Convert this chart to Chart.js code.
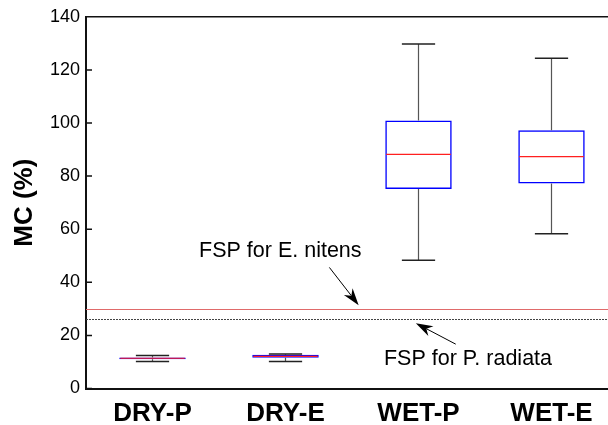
<!DOCTYPE html>
<html>
<head>
<meta charset="utf-8">
<script src="https://cdn.jsdelivr.net/npm/chart.js@4"></script>
<style>
html, body { margin: 0; padding: 0; background: #fff; overflow: hidden; }
#wrap { width: 620px; height: 425px; }
</style>
</head>
<body>
<div id="wrap"><canvas id="mcChart" width="620" height="425"></canvas></div>
<script>
// カテゴリ
const categories = ['DRY-P', 'DRY-E', 'WET-P', 'WET-E'];

// 箱ひげ図の値 (MC %)
const whiskerLow  = [10.2, 10.2, 48.3, 58.3];
const q1          = [11.0, 11.6, 75.1, 77.2];
const median      = [11.4, 12.1, 88.2, 87.3];
const q3          = [11.7, 12.7, 100.9, 97.3];
const whiskerHigh = [12.4, 13.0, 129.8, 124.4];

// Y軸の目盛
const yTicks = [0, 20, 40, 60, 80, 100, 120, 140];

// 繊維飽和点 (FSP)
const fspNitens = 30;
const fspRadiata = 26;

// 注記 (カテゴリ番号, 値)
const notes = [
    { text: 'FSP for E. nitens', textAt: [0.35, 49.7], from: [1.33, 45.6], to: [1.55, 31.4] },
    { text: 'FSP for P. radiata', textAt: [1.74, 8.8], from: [2.28, 16.7], to: [1.98, 24.6] }
];

const fontFamily = 'Arial, "Liberation Sans", Helvetica, sans-serif';
Chart.defaults.font.family = fontFamily;

// 矢印を描く
function drawArrow(ctx, x1, y1, x2, y2) {
    const ang = Math.atan2(y2 - y1, x2 - x1);
    const len = 17, half = 5.5;
    const bx = x2 - len * Math.cos(ang), by = y2 - len * Math.sin(ang);
    const nx = x2 - len * 0.7 * Math.cos(ang), ny = y2 - len * 0.7 * Math.sin(ang);
    ctx.strokeStyle = '#000';
    ctx.lineWidth = 1;
    ctx.beginPath();
    ctx.moveTo(x1, y1);
    ctx.lineTo(nx, ny);
    ctx.stroke();
    ctx.fillStyle = '#000';
    ctx.beginPath();
    ctx.moveTo(x2, y2);
    ctx.lineTo(bx - half * Math.sin(ang), by + half * Math.cos(ang));
    ctx.lineTo(nx, ny);
    ctx.lineTo(bx + half * Math.sin(ang), by - half * Math.cos(ang));
    ctx.closePath();
    ctx.fill();
}

// ひげ・中央値・FSP線・注記
const boxPlugin = {
    id: 'boxExtras',
    afterDatasetsDraw(chart) {
        const ctx = chart.ctx;
        const xs = chart.scales.x, ys = chart.scales.y;
        const area = chart.chartArea;
        const bars = chart.getDatasetMeta(0).data;
        ctx.save();

        // FSP線
        let py = Math.round(ys.getPixelForValue(fspNitens)) + 0.5;
        ctx.strokeStyle = '#e06a6a';
        ctx.lineWidth = 1;
        ctx.beginPath();
        ctx.moveTo(area.left, py);
        ctx.lineTo(area.right, py);
        ctx.stroke();
        py = Math.round(ys.getPixelForValue(fspRadiata)) + 0.5;
        ctx.strokeStyle = '#444';
        ctx.setLineDash([2, 1]);
        ctx.beginPath();
        ctx.moveTo(area.left, py);
        ctx.lineTo(area.right, py);
        ctx.stroke();
        ctx.setLineDash([]);

        // ひげと中央値
        categories.forEach(function (c, i) {
            const cx = xs.getPixelForValue(i);
            const w = bars[i].width;
            ctx.strokeStyle = '#555';
            ctx.lineWidth = 1.2;
            ctx.beginPath();
            ctx.moveTo(cx, ys.getPixelForValue(whiskerHigh[i]));
            ctx.lineTo(cx, ys.getPixelForValue(q3[i]));
            ctx.moveTo(cx, ys.getPixelForValue(q1[i]));
            ctx.lineTo(cx, ys.getPixelForValue(whiskerLow[i]));
            ctx.stroke();
            ctx.strokeStyle = '#222';
            ctx.lineWidth = 1.5;
            ctx.beginPath();
            [whiskerHigh[i], whiskerLow[i]].forEach(function (v) {
                const y = ys.getPixelForValue(v);
                ctx.moveTo(cx - w / 4, y);
                ctx.lineTo(cx + w / 4, y);
            });
            ctx.stroke();
            ctx.strokeStyle = '#ff2020';
            ctx.lineWidth = 1.2;
            ctx.beginPath();
            ctx.moveTo(cx - w / 2 + 1, ys.getPixelForValue(median[i]));
            ctx.lineTo(cx + w / 2 - 1, ys.getPixelForValue(median[i]));
            ctx.stroke();
        });

        // 上の枠線と内向きの目盛
        ctx.strokeStyle = '#111';
        ctx.lineWidth = 1.5;
        ctx.beginPath();
        ctx.moveTo(area.left, area.top);
        ctx.lineTo(area.right, area.top);
        ys.ticks.forEach(function (t) {
            const y = ys.getPixelForValue(t.value);
            ctx.moveTo(area.left, y);
            ctx.lineTo(area.left + 6, y);
        });
        ctx.stroke();

        // 注記
        ctx.font = '21.5px ' + fontFamily;
        ctx.fillStyle = '#000';
        ctx.textBaseline = 'alphabetic';
        notes.forEach(function (n) {
            ctx.fillText(n.text, xs.getPixelForValue(n.textAt[0]), ys.getPixelForValue(n.textAt[1]));
            drawArrow(ctx,
                xs.getPixelForValue(n.from[0]), ys.getPixelForValue(n.from[1]),
                xs.getPixelForValue(n.to[0]), ys.getPixelForValue(n.to[1]));
        });
        ctx.restore();
    }
};

const ctx = document.getElementById('mcChart').getContext('2d');
new Chart(ctx, {
    type: 'bar',
    data: {
        labels: categories,
        datasets: [{
            data: categories.map(function (c, i) { return [q1[i], q3[i]]; }),
            backgroundColor: 'rgba(0,0,0,0)',
            borderColor: '#0000ff',
            borderWidth: 1.5,
            borderSkipped: false,
            barPercentage: 0.5,
            categoryPercentage: 1
        }]
    },
    options: {
        responsive: false,
        animation: false,
        events: [],
        layout: { padding: { top: 15, right: 2, left: 0, bottom: 0 } },
        plugins: { legend: { display: false }, tooltip: { enabled: false } },
        scales: {
            x: {
                grid: { display: false, drawTicks: false },
                border: { display: true, color: '#111', width: 2 },
                ticks: { color: '#000', font: { size: 26, weight: 'bold' }, padding: 10 },
                afterFit: function (s) { s.height = 36.5; }
            },
            y: {
                min: 0,
                max: 140,
                afterBuildTicks: function (s) { s.ticks = yTicks.map(function (v) { return { value: v }; }); },
                grid: { display: false, drawTicks: false },
                border: { display: true, color: '#111', width: 2 },
                ticks: { color: '#000', font: { size: 18 }, padding: 6 },
                title: { display: true, text: 'MC (%)', color: '#000', font: { size: 26, weight: 'bold' }, padding: { top: 9, bottom: 0 } },
                afterFit: function (s) { s.width = 86; }
            }
        }
    },
    plugins: [boxPlugin]
});
</script>
</body>
</html>
